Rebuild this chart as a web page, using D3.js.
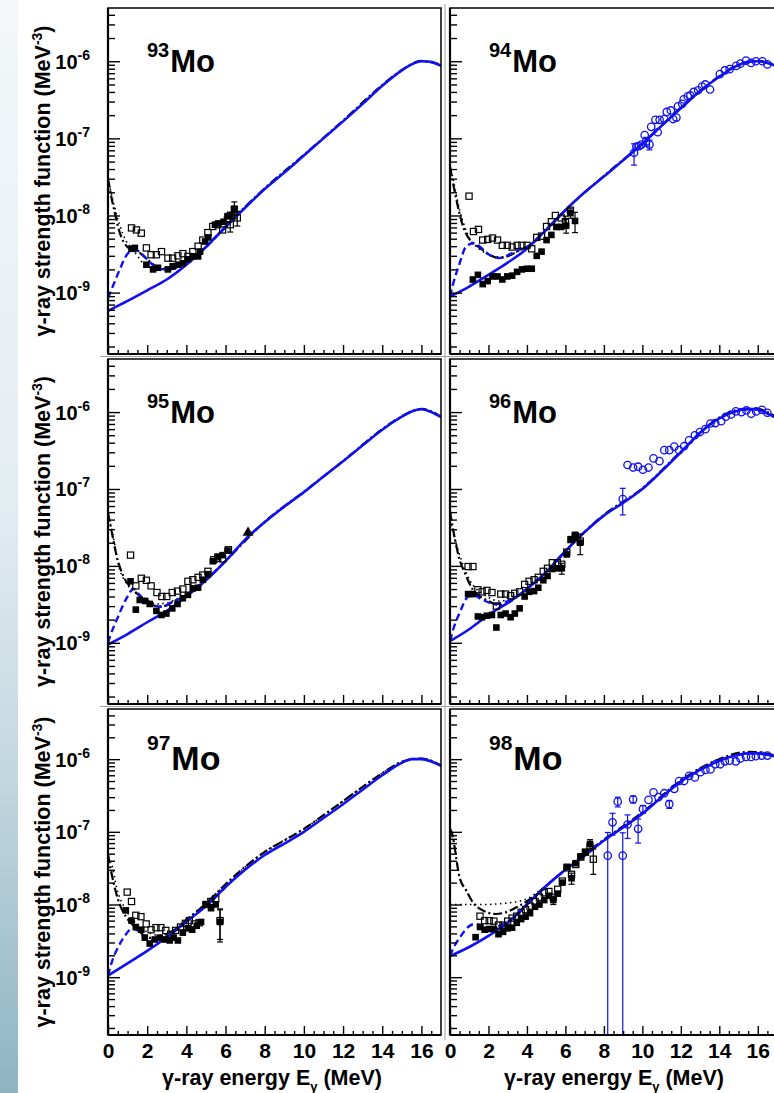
<!DOCTYPE html>
<html>
<head>
<meta charset="utf-8">
<script src="https://cdn.jsdelivr.net/npm/d3@7"></script>
<style>
  body { margin: 0; background: #fff; }
  svg { display: block; }
  text { font-family: "Liberation Sans", Arial, Helvetica, sans-serif; font-weight: bold; fill: #000; }
</style>
</head>
<body>
<script>
// ---- values: [E (MeV), f (MeV^-3)] or [E, f, error] ----

// 93Mo
const mo93Gsf = [[0,5.8e-10],[1,7.8e-10],[2,1.07e-9],[3,1.48e-9],[4,2.3e-9],[5,3.9e-9],[6,7.1e-9],[7,1.26e-8],[8,2.2e-8],[9,3.6e-8],[10,6.0e-8],[11,1.0e-7],[12,1.66e-7],[13,2.8e-7],[14,4.8e-7],[15,7.6e-7],[15.5,9.1e-7],[16,1.0e-6],[16.5,9.8e-7],[17,8.7e-7]];
const mo93Dashed = [[0,8.5e-10],[0.3,1.3e-9],[0.6,2.0e-9],[1.0,3.2e-9],[1.3,3.6e-9],[1.6,3.4e-9],[2.0,2.7e-9],[2.5,2.1e-9],[3.0,2.0e-9],[3.5,2.1e-9],[4,2.4e-9],[5,3.9e-9],[6,7.1e-9]];
const mo93DashDot = [[0,3.0e-8],[0.2,1.6e-8],[0.4,9.5e-9],[0.6,6.0e-9],[0.95,4.0e-9],[1.3,3.5e-9],[1.6,3.3e-9],[2.0,2.7e-9],[2.5,2.15e-9],[3,2.0e-9],[3.5,2.1e-9],[4,2.4e-9],[5,3.9e-9],[6,7.2e-9],[8,2.25e-8],[10,6.1e-8],[12,1.7e-7],[14,4.9e-7],[15,7.7e-7],[16,1.01e-6],[17,8.8e-7]];
const mo93Dotted = [[0,3.0e-8],[0.3,1.4e-8],[0.6,7.5e-9],[0.9,4.8e-9],[1.2,3.8e-9],[1.5,3.0e-9],[1.8,2.4e-9],[2.2,2.1e-9],[2.6,2.05e-9],[3,2.1e-9],[3.5,2.2e-9],[4,2.45e-9],[5,3.9e-9]];
const mo93Filled = [[1.2,3.7e-9],[1.37,3.8e-9],[1.96,2.3e-9],[2.3,2.0e-9],[2.55,2.1e-9],[3.06,2.0e-9],[3.3,2.2e-9],[3.57,2.3e-9],[3.82,2.4e-9],[4.08,2.7e-9],[4.33,2.95e-9],[4.6,2.95e-9],[4.7,3.4e-9],[4.96,4.6e-9],[5.12,5.2e-9],[5.46,7.6e-9],[5.63,7.9e-9],[5.9,8.3e-9],[6.1,9.8e-9],[6.24,1.02e-8],[6.45,1.17e-8,1.5e-9]];
const mo93Open = [[1.2,6.9e-9],[1.45,6.5e-9],[1.7,5.9e-9],[1.96,3.8e-9],[2.2,3.1e-9],[2.47,3.1e-9],[2.73,3.4e-9],[3.06,2.8e-9],[3.3,2.8e-9],[3.57,3.0e-9],[3.82,3.2e-9],[4.08,2.95e-9],[4.33,3.4e-9],[4.6,4.0e-9],[4.84,4.8e-9],[5.1,6.0e-9],[5.35,7.2e-9],[5.6,7.6e-9],[5.85,6.5e-9],[6.1,8.9e-9],[6.24,7.6e-9,1.5e-9],[6.45,1.2e-8,3e-9],[6.6,9.3e-9,2e-9]];

// 94Mo
const mo94Gsf = [[0,8.9e-10],[1,1.2e-9],[2,1.7e-9],[3,2.45e-9],[4,3.7e-9],[5,6.5e-9],[6,1.17e-8],[7,2.0e-8],[8,3.2e-8],[9,5.2e-8],[10,8.5e-8],[11,1.45e-7],[12,2.45e-7],[13,4.1e-7],[14,6.3e-7],[15,8.9e-7],[15.5,9.8e-7],[16,1.0e-6],[16.5,9.5e-7],[17,8.6e-7]];
const mo94Dashed = [[0,8.9e-10],[0.17,1.32e-9],[0.5,2.4e-9],[0.85,4.0e-9],[1.28,4.4e-9],[1.53,4.0e-9],[2.04,3.1e-9],[2.55,2.8e-9],[3.06,3.1e-9],[3.57,3.6e-9],[4,3.9e-9],[5,6.5e-9],[6,1.17e-8]];
const mo94DashDot = [[0,4.3e-8],[0.26,1.95e-8],[0.68,7.2e-9],[1.1,4.6e-9],[1.5,3.9e-9],[2.04,3.1e-9],[2.55,2.8e-9],[3.06,3.0e-9],[3.57,3.5e-9],[4,3.9e-9],[5,6.6e-9],[6,1.18e-8],[8,3.25e-8],[10,8.6e-8],[12,2.5e-7],[14,6.4e-7],[15,9.0e-7],[16,1.01e-6],[17,8.7e-7]];
const mo94Dotted = [[0,4.5e-8],[0.17,2.9e-8],[0.5,1.17e-8],[0.77,7.1e-9],[1.0,5.1e-9],[1.4,3.9e-9],[1.8,3.3e-9],[2.2,3.0e-9],[2.6,2.9e-9],[3.0,3.0e-9],[3.5,3.4e-9],[4,3.9e-9],[5,6.6e-9]];
const mo94Filled = [[1.19,1.48e-9],[1.45,1.7e-9],[1.7,1.29e-9],[1.96,1.41e-9],[2.21,1.62e-9],[2.47,1.62e-9],[2.72,1.48e-9],[2.98,1.62e-9],[3.23,1.66e-9],[3.49,1.86e-9],[3.74,2.0e-9],[4.0,2.04e-9],[4.25,2.04e-9],[4.51,3.0e-9],[4.76,3.4e-9],[5.02,4.8e-9],[5.27,5.6e-9],[5.53,7.1e-9],[5.78,7.1e-9],[6.04,7.4e-9,1.5e-9],[6.26,1.07e-8,1.5e-9],[6.5,8.5e-9,2.5e-9]];
const mo94Open = [[0.99,1.78e-8],[1.22,6.2e-9],[1.48,6.6e-9],[1.7,4.8e-9],[1.96,4.9e-9],[2.21,5.1e-9],[2.47,4.8e-9],[2.72,4.1e-9],[2.98,4.1e-9],[3.23,3.9e-9],[3.49,4.1e-9],[3.74,4.1e-9],[4.0,4.1e-9],[4.25,3.7e-9],[4.51,5.2e-9],[4.76,5.4e-9],[5.02,7.2e-9],[5.27,8.3e-9],[5.48,1.0e-8],[5.78,9.3e-9],[6.0,8.3e-9,1.5e-9],[6.26,1.17e-8]];
const mo94Photo = [[9.57,6.5e-8,2e-8],[9.69,7.8e-8],[9.83,7.9e-8],[9.95,8.3e-8],[10.12,1.1e-7],[10.2,9.1e-8,1.2e-8],[10.37,8.3e-8,1.2e-8],[10.46,1.41e-7],[10.68,1.74e-7],[10.8,1.2e-7],[10.9,1.74e-7],[11.14,1.78e-7],[11.27,2.2e-7],[11.48,2.3e-7],[11.6,1.78e-7],[11.77,1.86e-7],[11.85,2.6e-7],[12.07,2.8e-7],[12.15,3.2e-7],[12.36,3.5e-7],[12.5,3.6e-7],[12.67,4.0e-7],[12.9,4.2e-7],[13.1,4.7e-7],[13.27,5.0e-7],[13.52,4.3e-7],[14.03,6.8e-7],[14.29,7.6e-7],[14.54,7.9e-7],[14.88,8.7e-7],[15.1,9.3e-7],[15.39,1.02e-6],[15.65,9.5e-7],[15.9,1.0e-6],[16.24,1.0e-6],[16.5,9.1e-7]];

// 95Mo
const mo95Gsf = [[0,9.5e-10],[1,1.3e-9],[2,1.85e-9],[3,2.6e-9],[4,4.0e-9],[5,6.5e-9],[6,1.15e-8],[7,2.2e-8],[8,3.7e-8],[9,5.9e-8],[10,9.1e-8],[11,1.45e-7],[12,2.3e-7],[13,3.7e-7],[14,5.9e-7],[15,8.7e-7],[15.5,1.02e-6],[16,1.09e-6],[16.5,1.0e-6],[17,8.6e-7]];
const mo95Dashed = [[0,1.0e-9],[0.1,1.2e-9],[0.52,2.2e-9],[0.95,3.8e-9],[1.3,5.0e-9],[1.6,4.2e-9],[2.13,3.2e-9],[2.73,2.95e-9],[3.3,3.4e-9],[4,4.2e-9],[5,6.6e-9],[6,1.15e-8]];
const mo95DashDot = [[0,4.9e-8],[0.2,2.7e-8],[0.44,1.35e-8],[0.78,7.4e-9],[1.28,4.9e-9],[1.7,3.9e-9],[2.13,3.2e-9],[2.73,2.95e-9],[3.3,3.4e-9],[4,4.2e-9],[5,6.6e-9],[6,1.16e-8],[8,3.75e-8],[10,9.2e-8],[12,2.3e-7],[14,6.0e-7],[15,8.8e-7],[16,1.1e-6],[17,8.7e-7]];
const mo95Dotted = [[0,4.0e-8],[0.1,3.6e-8],[0.6,8.9e-9],[0.95,5.9e-9],[1.3,4.6e-9],[1.6,4.2e-9],[2.0,3.6e-9],[2.5,3.2e-9],[3,3.3e-9],[3.5,3.7e-9],[4,4.3e-9],[5,6.7e-9]];
const mo95Filled = [[1.15,6.3e-9],[1.42,2.7e-9],[1.62,3.6e-9],[1.9,3.5e-9],[2.13,3.2e-9],[2.47,2.6e-9],[2.73,2.3e-9],[2.98,2.4e-9],[3.28,2.8e-9],[3.55,3.2e-9],[3.82,3.8e-9],[4.08,4.2e-9],[4.33,5.1e-9],[4.6,5.2e-9],[4.84,6.6e-9],[5.1,7.8e-9],[5.35,1.15e-8],[5.6,1.32e-8],[5.85,1.38e-8],[6.1,1.58e-8]];
const mo95Open = [[1.15,1.38e-8],[1.42,5.5e-9],[1.7,6.9e-9],[1.96,6.5e-9],[2.2,5.5e-9],[2.5,4.5e-9],[2.75,4.0e-9],[3.0,4.0e-9],[3.28,4.5e-9],[3.55,4.7e-9],[3.82,5.0e-9],[4.08,6.3e-9],[4.33,6.6e-9],[4.6,7.1e-9],[4.84,7.6e-9],[5.1,8.5e-9],[5.4,1.2e-8],[5.6,1.26e-8],[5.85,1.23e-8],[6.15,1.62e-8]];
const mo95Triangle = [[7.15,2.7e-8]];

// 96Mo
const mo96Gsf = [[0,1.05e-9],[1,1.5e-9],[2,2.3e-9],[3,3.3e-9],[4,5.0e-9],[5,8.3e-9],[6,1.55e-8],[7,2.75e-8],[8,4.5e-8],[9,6.6e-8],[10,1.0e-7],[11,1.7e-7],[12,3.0e-7],[13,5.4e-7],[14,8.3e-7],[15,1.05e-6],[15.5,1.1e-6],[16,1.07e-6],[16.5,9.6e-7],[17,8.3e-7]];
const mo96Dashed = [[0,1.05e-9],[0.17,1.5e-9],[0.5,2.45e-9],[0.94,4.0e-9],[1.2,4.2e-9],[1.7,3.6e-9],[2.38,3.2e-9],[2.89,3.4e-9],[3.5,4.0e-9],[4,5.0e-9],[5,8.3e-9],[6,1.55e-8]];
const mo96DashDot = [[0,5.1e-8],[0.26,2.2e-8],[0.5,1.2e-8],[0.77,8.1e-9],[1.19,4.9e-9],[1.9,3.6e-9],[2.55,3.1e-9],[3,3.3e-9],[3.5,4.0e-9],[4,5.0e-9],[5,8.4e-9],[6,1.57e-8],[8,4.6e-8],[10,1.02e-7],[12,3.05e-7],[14,8.5e-7],[15,1.07e-6],[16,1.09e-6],[17,8.4e-7]];
const mo96Dotted = [[0,4.0e-8],[0.2,2.5e-8],[0.5,1.4e-8],[0.8,8.5e-9],[1.2,5.6e-9],[1.6,4.5e-9],[2.0,3.9e-9],[2.5,3.5e-9],[3,3.6e-9],[3.5,4.1e-9],[4,5.1e-9],[5,8.4e-9]];
const mo96Filled = [[0.94,4.3e-9],[1.19,4.3e-9],[1.45,2.2e-9],[1.67,2.15e-9],[1.92,2.25e-9],[2.18,2.3e-9],[2.41,1.58e-9],[2.64,2.3e-9],[2.89,2.4e-9],[3.15,2.15e-9],[3.37,2.4e-9],[3.62,2.8e-9],[3.88,4.0e-9],[4.11,4.6e-9],[4.37,4.7e-9],[4.59,5.2e-9],[4.85,6.5e-9],[5.07,7.4e-9],[5.32,9.1e-9],[5.58,9.3e-9],[5.81,9.3e-9,1.5e-9],[6.07,1.41e-8],[6.29,2.2e-8],[6.51,2.45e-8,3e-9],[6.77,2.0e-8,6e-9]];
const mo96Open = [[0.94,9.8e-9],[1.19,9.8e-9],[1.45,4.9e-9],[1.67,4.6e-9],[1.92,4.8e-9],[2.18,4.5e-9],[2.41,3.0e-9],[2.64,4.3e-9],[2.89,4.3e-9],[3.15,4.1e-9],[3.37,4.4e-9],[3.62,4.6e-9],[3.88,5.75e-9],[4.11,6.3e-9],[4.37,6.6e-9],[4.59,7.1e-9],[4.85,8.5e-9],[5.07,9.3e-9],[5.32,1.1e-8],[5.58,1.1e-8],[5.81,1.05e-8],[6.07,1.51e-8],[6.29,2.2e-8],[6.51,2.45e-8],[6.77,2.1e-8]];
const mo96Photo = [[8.98,7.4e-8,2.8e-8],[9.23,2.05e-7],[9.52,1.9e-7],[9.78,1.95e-7],[10.03,1.78e-7],[10.32,1.9e-7],[10.58,2.5e-7],[10.89,2.3e-7],[11.14,3.2e-7],[11.4,3.2e-7],[11.66,3.55e-7],[11.91,3.2e-7],[12.17,3.6e-7],[12.43,4.3e-7],[12.73,5.0e-7],[12.99,5.5e-7],[13.28,6.0e-7],[13.54,7.1e-7],[13.79,7.2e-7],[14.1,7.6e-7],[14.34,8.7e-7],[14.61,9.3e-7],[14.86,1.02e-6],[15.15,1.0e-6],[15.41,1.05e-6],[15.66,9.5e-7],[15.92,1.02e-6],[16.22,1.07e-6],[16.5,9.8e-7]];

// 97Mo
const mo97Gsf = [[0,1.05e-9],[1,1.55e-9],[2,2.3e-9],[3,3.55e-9],[4,5.8e-9],[5,9.5e-9],[6,1.74e-8],[7,3.0e-8],[8,4.8e-8],[9,6.9e-8],[10,1.0e-7],[11,1.55e-7],[12,2.4e-7],[13,3.8e-7],[14,6.0e-7],[15,8.9e-7],[15.5,1.0e-6],[16,1.0e-6],[16.5,9.3e-7],[17,8.1e-7]];
const mo97Dashed = [[0,1.05e-9],[0.19,1.6e-9],[0.52,2.6e-9],[0.86,3.7e-9],[1.2,4.6e-9],[1.53,4.4e-9],[1.96,3.3e-9],[2.47,3.2e-9],[2.98,3.6e-9],[3.5,4.5e-9],[4,5.8e-9],[5,9.5e-9],[6,1.74e-8]];
const mo97DashDot = [[0,4.9e-8],[0.19,2.6e-8],[0.6,1.0e-8],[0.95,6.6e-9],[1.45,4.7e-9],[1.96,3.6e-9],[2.5,3.4e-9],[3,3.8e-9],[3.5,4.7e-9],[4,6.1e-9],[5,1.03e-8],[6,1.9e-8],[7,3.3e-8],[8,5.3e-8],[9,7.6e-8],[10,1.1e-7],[11,1.7e-7],[12,2.65e-7],[13,4.15e-7],[14,6.4e-7],[15,9.2e-7],[16,1.02e-6],[17,8.2e-7]];
const mo97Dotted = [[0,4.5e-8],[0.19,3.6e-8],[0.44,1.7e-8],[0.8,9.5e-9],[1.2,6.5e-9],[1.6,5.0e-9],[2.0,4.2e-9],[2.5,3.8e-9],[3,4.0e-9],[3.5,4.8e-9],[4,6.2e-9],[5,1.04e-8],[6,1.9e-8],[8,5.3e-8],[10,1.1e-7],[12,2.65e-7],[14,6.4e-7],[15,9.2e-7],[16,1.02e-6],[17,8.2e-7]];
const mo97Filled = [[0.91,8.3e-9],[1.2,6.0e-9],[1.42,4.9e-9],[1.7,4.5e-9],[1.88,3.5e-9],[2.13,2.9e-9],[2.39,3.3e-9],[2.64,3.5e-9],[2.9,3.3e-9],[3.15,3.2e-9],[3.35,3.5e-9],[3.57,3.2e-9],[3.82,4.1e-9],[4.08,4.7e-9],[4.3,4.5e-9],[4.53,5.1e-9],[4.75,5.75e-9],[5.0,1.0e-8],[5.26,8.9e-9],[5.5,1.0e-8],[5.72,5.75e-9,2.7e-9]];
const mo97Open = [[0.98,1.48e-8],[1.2,1.1e-8],[1.42,7.1e-9],[1.68,6.8e-9],[1.95,5.4e-9],[2.2,4.5e-9],[2.45,4.8e-9],[2.7,4.8e-9],[2.95,4.4e-9],[3.2,3.9e-9],[3.45,4.4e-9],[3.7,4.9e-9],[3.95,5.5e-9],[4.15,6.0e-9],[4.4,5.4e-9],[4.65,5.6e-9],[5.0,1.0e-8],[5.25,1.1e-8],[5.5,1.2e-8],[5.72,6.0e-9,2.7e-9]];

// 98Mo
const mo98Gsf = [[0,1.95e-9],[1,2.6e-9],[2,3.7e-9],[3,5.6e-9],[4,1.0e-8],[5,1.8e-8],[6,3.0e-8],[7,4.7e-8],[8,7.6e-8],[9,1.15e-7],[10,1.78e-7],[11,3.0e-7],[12,4.9e-7],[13,7.1e-7],[14,9.5e-7],[15,1.15e-6],[15.5,1.2e-6],[16,1.2e-6],[16.5,1.15e-6],[17,1.07e-6]];
const mo98Dashed = [[0,1.95e-9],[0.17,2.5e-9],[0.51,3.5e-9],[0.94,4.9e-9],[1.3,5.4e-9],[1.7,5.1e-9],[2.21,4.8e-9],[2.72,5.3e-9],[3.2,6.3e-9],[4,1.0e-8],[5,1.8e-8],[6,3.0e-8]];
const mo98DashDot = [[0,1.1e-7],[0.09,9.8e-8],[0.5,2.35e-8],[0.85,1.55e-8],[1.19,1.07e-8],[1.7,8.3e-9],[2.38,7.4e-9],[2.89,7.8e-9],[3.57,9.5e-9],[4.25,1.23e-8],[5,1.8e-8],[6,3.05e-8],[8,7.8e-8],[10,1.85e-7],[12,5.1e-7],[13,7.5e-7],[14,1.0e-6],[15,1.22e-6],[15.5,1.26e-6],[16,1.25e-6],[17,1.1e-6]];
const mo98Dotted = [[0,1.0e-8],[0.5,1.0e-8],[1,1.0e-8],[1.5,1.0e-8],[2,1.0e-8],[2.5,1.02e-8],[3,1.05e-8],[3.5,1.1e-8],[4,1.2e-8],[4.5,1.45e-8],[5,1.85e-8],[6,3.05e-8]];
const mo98Filled = [[1.33,3.55e-9],[1.56,4.9e-9],[1.8,4.5e-9],[2.04,4.6e-9],[2.28,4.6e-9],[2.52,3.9e-9],[2.76,4.2e-9],[3.0,4.7e-9],[3.23,4.8e-9],[3.47,5.6e-9],[3.7,6.3e-9],[3.93,6.8e-9],[4.16,7.6e-9],[4.42,9.3e-9],[4.65,1.0e-8],[4.9,1.15e-8],[5.14,1.32e-8],[5.37,1.15e-8,1.5e-9],[5.6,1.41e-8],[5.84,2.0e-8],[6.08,3.3e-8],[6.32,2.3e-8,4e-9],[6.54,3.7e-8],[6.8,4.6e-8],[7.04,5.25e-8],[7.28,6.8e-8,1e-8]];
const mo98Open = [[1.56,6.9e-9],[1.8,6.0e-9],[2.04,6.0e-9],[2.28,5.9e-9],[2.52,5.2e-9],[2.76,5.2e-9],[3.0,5.9e-9],[3.23,6.5e-9],[3.47,6.9e-9],[3.7,7.8e-9],[3.93,8.5e-9],[4.16,9.5e-9],[4.42,1.1e-8],[4.65,1.26e-8],[4.9,1.45e-8],[5.14,1.51e-8],[5.37,1.26e-8],[5.6,1.62e-8],[5.84,2.1e-8],[6.08,3.2e-8],[6.32,2.6e-8],[6.54,3.55e-8],[6.8,4.5e-8],[7.04,5.25e-8],[7.28,6.2e-8],[7.45,4.2e-8,1.6e-8]];
const mo98Photo = [[8.2,4.7e-8,5.1e-8],[8.45,1.35e-7,4.5e-8],[8.72,2.6e-7,4e-8],[8.98,4.7e-8,5e-8],[9.23,1.26e-7,4.5e-8],[9.52,2.8e-7,3e-8],[9.78,1.1e-7,4e-8],[10.03,2.05e-7,2.5e-8],[10.32,2.75e-7],[10.58,3.5e-7],[10.84,3.0e-7],[11.14,3.4e-7],[11.4,2.4e-7,3e-8],[11.66,3.9e-7],[11.91,5.0e-7],[12.17,5.0e-7],[12.43,5.9e-7],[12.73,5.6e-7],[13.02,6.6e-7],[13.28,7.1e-7],[13.54,7.2e-7],[13.79,8.5e-7],[14.05,8.5e-7],[14.29,9.3e-7],[14.54,9.5e-7],[14.86,9.3e-7],[15.1,1.02e-6],[15.39,1.07e-6],[15.65,1.07e-6],[15.9,1.1e-6],[16.2,1.12e-6],[16.5,1.12e-6]];

// axis values
const xMajorTicks = [0, 2, 4, 6, 8, 10, 12, 14, 16];
const yDecades = [1e-9, 1e-8, 1e-7, 1e-6];
const yExponents = ["-9", "-8", "-7", "-6"];

// ---- layout ----
const rowTops = [8, 359, 709];
const rowBottoms = [354, 704, 1035];
const colLefts = [108, 450];
const colWidths = [333, 327];
const energyMax = 17;
const gsfDomain = [1.6e-10, 4.9e-6];

const panels = [
    {mass: "93", col: 0, row: 0, gsf: mo93Gsf, dashed: mo93Dashed, dashDot: mo93DashDot, dotted: mo93Dotted, filled: mo93Filled, open: mo93Open, photo: [], triangles: []},
    {mass: "94", col: 1, row: 0, gsf: mo94Gsf, dashed: mo94Dashed, dashDot: mo94DashDot, dotted: mo94Dotted, filled: mo94Filled, open: mo94Open, photo: mo94Photo, triangles: []},
    {mass: "95", col: 0, row: 1, gsf: mo95Gsf, dashed: mo95Dashed, dashDot: mo95DashDot, dotted: mo95Dotted, filled: mo95Filled, open: mo95Open, photo: [], triangles: mo95Triangle},
    {mass: "96", col: 1, row: 1, gsf: mo96Gsf, dashed: mo96Dashed, dashDot: mo96DashDot, dotted: mo96Dotted, filled: mo96Filled, open: mo96Open, photo: mo96Photo, triangles: []},
    {mass: "97", col: 0, row: 2, gsf: mo97Gsf, dashed: mo97Dashed, dashDot: mo97DashDot, dotted: mo97Dotted, filled: mo97Filled, open: mo97Open, photo: [], triangles: []},
    {mass: "98", col: 1, row: 2, gsf: mo98Gsf, dashed: mo98Dashed, dashDot: mo98DashDot, dotted: mo98Dotted, filled: mo98Filled, open: mo98Open, photo: mo98Photo, triangles: []}
];

const svg = d3.select("body").append("svg")
    .attr("width", 774)
    .attr("height", 1093);

// slide background strip on the left
const grad = svg.append("defs").append("linearGradient")
    .attr("id", "strip").attr("x1", 0).attr("y1", 0).attr("x2", 0).attr("y2", 1);
[["0%", "#f3f7fa"], ["45%", "#e4edf2"], ["70%", "#c4d8e0"], ["85%", "#a9c6d2"], ["100%", "#8fb3c3"]]
    .forEach(s => grad.append("stop").attr("offset", s[0]).attr("stop-color", s[1]));
svg.append("rect").attr("x", 0).attr("y", 0).attr("width", 18).attr("height", 1093).attr("fill", "url(#strip)");

// thin pad separators
svg.append("line").attr("x1", 445).attr("x2", 445).attr("y1", 4).attr("y2", 1040)
    .attr("stroke", "#a0a0a0").attr("stroke-width", 1);
[356.5, 706.5].forEach(yy => {
    svg.append("line").attr("x1", 100).attr("x2", 774).attr("y1", yy).attr("y2", yy)
        .attr("stroke", "#a0a0a0").attr("stroke-width", 1);
});

function drawPanel(p) {
    const x0 = colLefts[p.col], panelWidth = colWidths[p.col];
    const top = rowTops[p.row], bottom = rowBottoms[p.row];
    const x = d3.scaleLinear().domain([0, energyMax]).range([x0, x0 + panelWidth]);
    const y = d3.scaleLog().domain(gsfDomain).range([bottom, top]);
    const bigRow = p.row === 2;

    const g = svg.append("g");
    const clipId = `clip-${p.mass}`;
    g.append("clipPath").attr("id", clipId).append("rect")
        .attr("x", x0).attr("y", top).attr("width", panelWidth).attr("height", bottom - top);

    g.append("rect").attr("x", x0).attr("y", top).attr("width", panelWidth).attr("height", bottom - top)
        .attr("fill", "#fff");

    const plot = g.append("g").attr("clip-path", `url(#${clipId})`);
    const line = d3.line()
        .x(d => x(d[0]))
        .y(d => y(d[1]))
        .curve(d3.curveMonotoneX);

    // model curves
    plot.append("path").datum(p.dotted)
        .attr("d", line).attr("fill", "none").attr("stroke", "#000")
        .attr("stroke-width", 1.6).attr("stroke-dasharray", "1.5,3.5");
    plot.append("path").datum(p.dashDot)
        .attr("d", line).attr("fill", "none").attr("stroke", "#000")
        .attr("stroke-width", 2.2).attr("stroke-dasharray", "9,3,2,3");
    plot.append("path").datum(p.dashed)
        .attr("d", line).attr("fill", "none").attr("stroke", "#1010f0")
        .attr("stroke-width", 2.4).attr("stroke-dasharray", "7,4");
    plot.append("path").datum(p.gsf)
        .attr("d", line).attr("fill", "none").attr("stroke", "#1010f0")
        .attr("stroke-width", 2.6);

    // error bars
    function errorBars(data, colour) {
        const withErr = data.filter(d => d[2]);
        withErr.forEach(d => {
            const cx = x(d[0]);
            const yHi = y(d[1] + d[2]);
            const yLo = d[1] - d[2] > gsfDomain[0] ? y(d[1] - d[2]) : bottom;
            plot.append("line").attr("x1", cx).attr("x2", cx).attr("y1", yHi).attr("y2", yLo)
                .attr("stroke", colour).attr("stroke-width", 1.2);
            plot.append("line").attr("x1", cx - 3).attr("x2", cx + 3).attr("y1", yHi).attr("y2", yHi)
                .attr("stroke", colour).attr("stroke-width", 1.2);
            if (yLo < bottom) {
                plot.append("line").attr("x1", cx - 3).attr("x2", cx + 3).attr("y1", yLo).attr("y2", yLo)
                    .attr("stroke", colour).attr("stroke-width", 1.2);
            }
        });
    }
    errorBars(p.filled, "#000");
    errorBars(p.open, "#000");
    errorBars(p.photo, "#1010f0");

    // data markers
    plot.selectAll(".filled").data(p.filled).join("rect")
        .attr("x", d => x(d[0]) - 3.3).attr("y", d => y(d[1]) - 3.3)
        .attr("width", 6.6).attr("height", 6.6).attr("fill", "#000");
    plot.selectAll(".open").data(p.open).join("rect")
        .attr("x", d => x(d[0]) - 3.1).attr("y", d => y(d[1]) - 3.1)
        .attr("width", 6.2).attr("height", 6.2).attr("fill", "none")
        .attr("stroke", "#000").attr("stroke-width", 1.2);
    plot.selectAll(".photo").data(p.photo).join("circle")
        .attr("cx", d => x(d[0])).attr("cy", d => y(d[1])).attr("r", 3.7)
        .attr("fill", "none").attr("stroke", "#1010f0").attr("stroke-width", 1.3);
    plot.selectAll(".tri").data(p.triangles).join("path")
        .attr("d", d3.symbol(d3.symbolTriangle, 50))
        .attr("transform", d => `translate(${x(d[0])},${y(d[1])})`)
        .attr("fill", "#000");

    // ticks pointing inward
    const yMinor = [];
    [-10, -9, -8, -7, -6].forEach(k => {
        for (let m = 2; m <= 9; m++) {
            const v = m * Math.pow(10, k);
            if (v > gsfDomain[0] && v < gsfDomain[1]) yMinor.push(v);
        }
    });
    const tickStyle = sel => {
        sel.select(".domain").remove();
        sel.selectAll(".tick line").attr("stroke", "#000").attr("stroke-width", 1.4);
    };
    g.append("g").attr("transform", `translate(${x0},0)`)
        .call(d3.axisRight(y).tickValues(yDecades).tickSize(12).tickFormat(""))
        .call(tickStyle);
    g.append("g").attr("transform", `translate(${x0},0)`)
        .call(d3.axisRight(y).tickValues(yMinor).tickSize(7).tickFormat(""))
        .call(tickStyle);
    g.append("g").attr("transform", `translate(0,${bottom})`)
        .call(d3.axisTop(x).tickValues(xMajorTicks).tickSize(9).tickFormat(""))
        .call(tickStyle);
    g.append("g").attr("transform", `translate(0,${bottom})`)
        .call(d3.axisTop(x).tickValues(d3.range(0.5, energyMax, 0.5).filter(v => v % 2 !== 0)).tickSize(4).tickFormat(""))
        .call(tickStyle);

    // frame
    g.append("rect").attr("x", x0).attr("y", top).attr("width", panelWidth).attr("height", bottom - top)
        .attr("fill", "none").attr("stroke", "#000").attr("stroke-width", 1.5);
    g.append("line").attr("x1", x0).attr("x2", x0).attr("y1", top).attr("y2", bottom)
        .attr("stroke", "#000").attr("stroke-width", 2.2);
    g.append("line").attr("x1", x0).attr("x2", x0 + panelWidth).attr("y1", bottom).attr("y2", bottom)
        .attr("stroke", "#000").attr("stroke-width", 2.2);

    // isotope label
    const label = g.append("text")
        .attr("x", x0 + 39)
        .attr("y", top + (bigRow ? 61 : 64));
    label.append("tspan").style("font-size", bigRow ? "21px" : "20px")
        .attr("dy", bigRow ? -20 : -15).text(p.mass);
    label.append("tspan").style("font-size", bigRow ? "34px" : "31px")
        .attr("dy", bigRow ? 20 : 15).attr("dx", 1).text("Mo");

    // y tick labels and title on the left column
    if (p.col === 0) {
        yDecades.forEach((v, i) => {
            const t = g.append("text")
                .attr("x", x0 - 18)
                .attr("y", y(v) + 7.5)
                .attr("text-anchor", "end")
                .style("font-size", "20px");
            t.append("tspan").text("10");
            t.append("tspan").attr("dy", -9).style("font-size", "14px").text(yExponents[i]);
        });

        const title = g.append("text")
            .attr("transform", `translate(50,${(top + bottom) / 2}) rotate(-90)`)
            .attr("text-anchor", "middle")
            .style("font-size", "21.5px");
        title.append("tspan").text("\u03b3-ray strength function (MeV");
        title.append("tspan").attr("dy", -8).style("font-size", "14px").text("-3");
        title.append("tspan").attr("dy", 8).text(")");
    }

    // x tick labels and title on the bottom row
    if (p.row === 2) {
        g.append("g").attr("transform", `translate(0,${bottom})`)
            .call(d3.axisBottom(x).tickValues(xMajorTicks).tickSize(0).tickPadding(8).tickFormat(d3.format("d")))
            .call(sel => sel.select(".domain").remove())
            .selectAll("text")
                .style("font-size", "21px")
                .style("font-family", "'Liberation Sans', Arial, sans-serif")
                .style("font-weight", "bold")
                .attr("fill", "#000");

        const xTitle = g.append("text")
            .attr("x", x0 + 164)
            .attr("y", 1085)
            .attr("text-anchor", "middle")
            .style("font-size", "21.5px");
        xTitle.append("tspan").text("\u03b3-ray energy E");
        xTitle.append("tspan").attr("dy", 6).style("font-size", "13px").text("\u03b3");
        xTitle.append("tspan").attr("dy", -6).text(" (MeV)");
    }
}

panels.forEach(drawPanel);
</script>
</body>
</html>
